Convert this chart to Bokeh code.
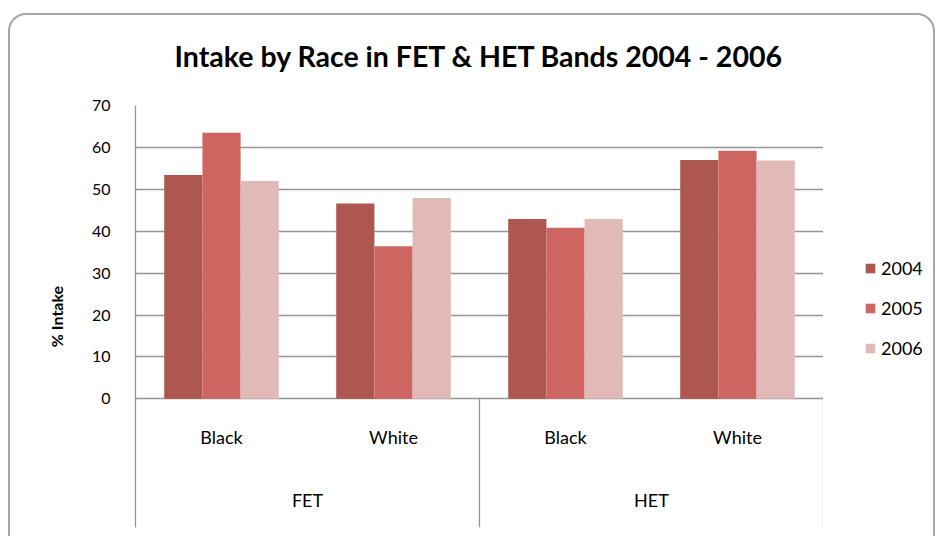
from bokeh.plotting import figure
from bokeh.layouts import row
from bokeh.models import (FactorRange, Range1d, FixedTicker, ColumnDataSource,
                          InlineStyleSheet)
from bokeh.transform import dodge
from bokeh.core.properties import value
from bokeh.embed import file_html
from bokeh.resources import INLINE

# ---- data ----
bands = ["FET", "FET", "HET", "HET"]
races = ["Black", "White", "Black", "White"]
years = ["2004", "2005", "2006"]
v2004 = [53.4, 46.6, 42.9, 57.0]
v2005 = [63.5, 36.4, 40.8, 59.2]
v2006 = [52.0, 47.9, 42.9, 56.9]
y_ticks = [0, 10, 20, 30, 40, 50, 60, 70]
title_text = "Intake by Race in FET & HET Bands 2004 - 2006"
y_label = "% Intake"

colors = ["#ae5650", "#cd6660", "#e1b9b7"]
FONT = "Lato"
GRID = "#959595"

factors = list(zip(bands, races))
src = ColumnDataSource(dict(x=factors, y2004=v2004, y2005=v2005, y2006=v2006))

x_range = FactorRange(*factors, range_padding=0, factor_padding=0,
                      group_padding=0, subgroup_padding=0)

p = figure(width=823, height=536, x_range=x_range, y_range=Range1d(-30.7, 70),
           output_backend="svg", toolbar_location=None, x_axis_location=None,
           min_border_left=135, min_border_right=0, min_border_top=105,
           min_border_bottom=9)

p.outline_line_color = None
p.background_fill_color = "white"
p.border_fill_color = "white"

bw = 0.222
for i, (yr, col) in enumerate(zip(years, colors)):
    p.vbar(x=dodge("x", (i - 1) * bw, range=x_range), top="y" + yr, width=bw,
           source=src, fill_color=col, line_color=None)

# y axis
p.yaxis.ticker = FixedTicker(ticks=y_ticks)
p.yaxis.major_tick_out = 0
p.yaxis.major_tick_in = 0
p.yaxis.minor_tick_line_color = None
p.yaxis.axis_line_color = GRID
p.yaxis.axis_line_width = 1.3
p.yaxis.major_label_standoff = 25
p.yaxis.major_label_text_font = FONT
p.yaxis.major_label_text_font_size = "16px"
p.yaxis.major_label_text_color = "#000000"
p.yaxis.axis_label = y_label
p.yaxis.axis_label_text_font = FONT
p.yaxis.axis_label_text_font_style = "bold"
p.yaxis.axis_label_text_font_size = "16px"
p.yaxis.axis_label_text_color = "#000000"
p.yaxis.axis_label_standoff = 23

p.xgrid.grid_line_color = None
p.ygrid.ticker = FixedTicker(ticks=y_ticks)
p.ygrid.grid_line_color = GRID
p.ygrid.grid_line_width = 1.3

# category labels (two-level axis drawn below the zero line)
lab_src = ColumnDataSource(dict(x=factors, y=[-9.2] * 4, t=races))
p.text(x="x", y="y", text="t", source=lab_src, text_align="center",
       text_baseline="middle", text_font=value(FONT), text_font_size="18px",
       text_color="#000000")
groups = ["FET", "HET"]
grp_src = ColumnDataSource(dict(x=groups, y=[-24.2] * 2, t=groups))
p.text(x="x", y="y", text="t", source=grp_src, text_align="center",
       text_baseline="middle", text_font=value(FONT), text_font_size="18px",
       text_color="#000000")

# group separators
sep_src = ColumnDataSource(dict(x=[("FET", "White", 0.5), ("HET", "White", 0.5)],
                                y0=[0, 0], y1=[-30.7, -30.7]))
p.segment(x0="x", y0="y0", x1="x", y1="y1", source=sep_src,
          line_color=GRID, line_width=1.3)

# title
p.title.text = title_text
p.title.align = "center"
p.title.text_font = FONT
p.title.text_font_style = "bold"
p.title.text_font_size = "28.5px"
p.title.text_color = "#000000"
p.title.standoff = 66

# legend panel (separate small canvas to the right)
p2 = figure(width=116, height=536, x_range=Range1d(0, 1), y_range=Range1d(0, 1),
            output_backend="svg", toolbar_location=None, x_axis_location=None,
            y_axis_location=None, min_border=0)
p2.title.visible = False
p2.outline_line_color = None
p2.grid.visible = False
p2.background_fill_color = "white"
p2.border_fill_color = "white"
nan = float("nan")
for yr, col in zip(years, colors):
    p2.vbar(x=[nan], top=[nan], width=0.1, fill_color=col, line_color=None,
            legend_label=yr)
leg = p2.legend[0]
leg.location = (41, 168)
leg.padding = 0
leg.margin = 0
leg.border_line_color = None
leg.background_fill_color = None
leg.glyph_width = 12
leg.glyph_height = 12
leg.label_height = 12
leg.label_standoff = 5
leg.spacing = 18
leg.label_text_font = FONT
leg.label_text_font_size = "18px"
leg.label_text_color = "#000000"

# rounded chart-area border, split across the two canvases
p.stylesheets = [InlineStyleSheet(css="""
:host { overflow: hidden; position: relative; }
:host::after {
  content: ""; position: absolute; left: 8px; top: 13px;
  width: 880px; height: 600px; box-sizing: border-box;
  border: 2px solid #a6a6a6; border-radius: 18px; pointer-events: none;
}
""")]
p2.stylesheets = [InlineStyleSheet(css="""
:host { overflow: hidden; position: relative; }
:host::after {
  content: ""; position: absolute; left: -40px; top: 13px;
  width: 152px; height: 600px; box-sizing: border-box;
  border: 2px solid #a6a6a6; border-radius: 18px; pointer-events: none;
}
""")]

layout = row(p, p2, spacing=0)
open("out.html", "w").write(file_html(layout, INLINE))
